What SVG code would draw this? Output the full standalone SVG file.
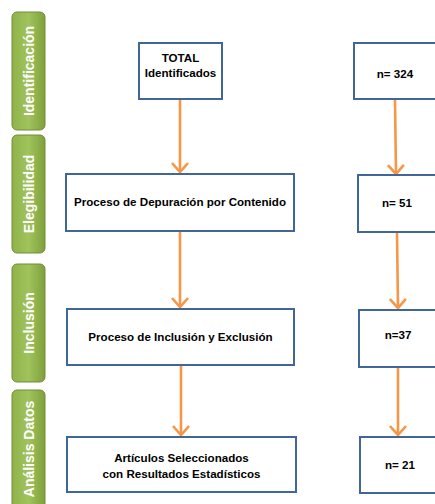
<svg xmlns="http://www.w3.org/2000/svg" width="435" height="504" viewBox="0 0 435 504">
<defs>
<linearGradient id="g" x1="0" y1="0" x2="1" y2="0">
<stop offset="0" stop-color="#8fb24a"/>
<stop offset="0.5" stop-color="#a0c35c"/>
<stop offset="1" stop-color="#7fa03c"/>
</linearGradient>
<marker id="ah" viewBox="0 0 20 20" refX="18" refY="10" markerWidth="20" markerHeight="20" markerUnits="userSpaceOnUse" orient="auto">
<path d="M9,2 L18,10 L9,18" fill="none" stroke="#F79646" stroke-width="2.6"/>
</marker>
</defs>
<style>
.bar{fill:url(#g);stroke:#6f8f36;stroke-width:1}
.bt{font-family:"Liberation Sans",Arial,sans-serif;font-weight:bold;font-size:14px;fill:#fff;text-anchor:middle}
.box{fill:#fff;stroke:#41679a;stroke-width:2}
.t{font-family:"Liberation Sans",Arial,sans-serif;font-weight:bold;font-size:11.6px;fill:#000;text-anchor:middle}
.c{fill:none;stroke:#F79646;stroke-width:2.6;marker-end:url(#ah)}
</style>
<rect width="435" height="504" fill="#fff"/>
<g id="stage-identificacion">
<rect class="bar" x="12" y="12" width="33" height="118" rx="5"/>
<text class="bt" transform="translate(34,71) rotate(-90)">Identificación</text>
</g>
<g id="stage-elegibilidad">
<rect class="bar" x="12" y="135" width="33" height="118" rx="5"/>
<text class="bt" transform="translate(34,194) rotate(-90)">Elegibilidad</text>
</g>
<g id="stage-inclusion">
<rect class="bar" x="12" y="264" width="33" height="118" rx="5"/>
<text class="bt" transform="translate(34,323) rotate(-90)">Inclusión</text>
</g>
<g id="stage-analisis">
<rect class="bar" x="12" y="390" width="33" height="125" rx="5"/>
<text class="bt" transform="translate(34,449) rotate(-90)">Análisis Datos</text>
</g>
<g id="connectors">
<line class="c" x1="180" y1="100" x2="180" y2="172"/>
<line class="c" x1="180" y1="232" x2="180" y2="307"/>
<line class="c" x1="181" y1="366" x2="181" y2="435"/>
<line class="c" x1="395" y1="100" x2="396" y2="174"/>
<line class="c" x1="397" y1="233" x2="398" y2="308"/>
<line class="c" x1="398" y1="368" x2="398" y2="435"/>
</g>
<g id="total">
<rect class="box" x="139" y="43" width="83" height="56"/>
<text class="t" x="180.5" y="62">TOTAL</text>
<text class="t" x="180.5" y="77">Identificados</text>
</g>
<g id="depuracion">
<rect class="box" x="66" y="174" width="228" height="57"/>
<text class="t" x="180" y="206">Proceso de Depuración por Contenido</text>
</g>
<g id="inclusion">
<rect class="box" x="67" y="309" width="227" height="56"/>
<text class="t" x="180.5" y="341">Proceso de Inclusión y Exclusión</text>
</g>
<g id="articulos">
<rect class="box" x="67" y="437" width="229" height="55"/>
<text class="t" x="181.5" y="462">Artículos Seleccionados</text>
<text class="t" x="181.5" y="478">con Resultados Estadísticos</text>
</g>
<g id="n324">
<rect class="box" x="354" y="43" width="90" height="56"/>
<text class="t" x="395" y="78">n= 324</text>
</g>
<g id="n51">
<rect class="box" x="358" y="175" width="90" height="57"/>
<text class="t" x="397" y="207">n= 51</text>
</g>
<g id="n37">
<rect class="box" x="359" y="310" width="90" height="57"/>
<text class="t" x="398" y="339">n=37</text>
</g>
<g id="n21">
<rect class="box" x="360" y="437" width="90" height="56"/>
<text class="t" x="400" y="469">n= 21</text>
</g>
</svg>
